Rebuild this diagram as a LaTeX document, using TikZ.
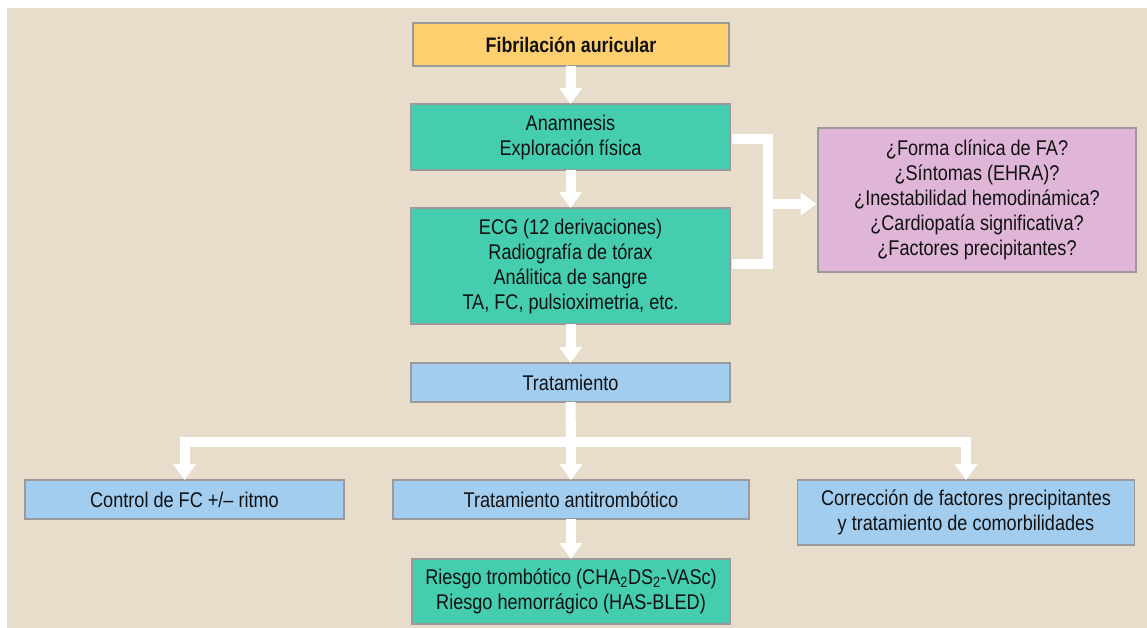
\documentclass[tikz,border=0pt]{standalone}
\usepackage{fontspec}
\setmainfont{Liberation Sans}[FakeStretch=0.85]
\usetikzlibrary{arrows.meta}
\definecolor{bg}{HTML}{E8DCCA}
\definecolor{cyel}{HTML}{FDCF6F}
\definecolor{cteal}{HTML}{45CDB0}
\definecolor{cblue}{HTML}{A2CDEF}
\definecolor{cpurp}{HTML}{DFB6D8}
\definecolor{cbord}{HTML}{9A9A9A}
\definecolor{ctext}{HTML}{111111}
\begin{document}
\begin{tikzpicture}[x=1pt,y=-1pt,
  box/.style={draw=cbord,line width=1.5pt,inner sep=0pt,align=center,text=ctext,
    font=\fontsize{21.3}{25}\selectfont},
  conn/.style={draw=white,line width=10pt,line join=miter},
  arr/.style={conn,-{Triangle[width=22pt,length=16pt]}}]
\useasboundingbox (0,0) rectangle (1147,628);
\fill[white] (0,0) rectangle (1147,628);
\fill[bg] (7,8) rectangle (1147,628);

\node[box,fill=cyel,minimum width=316pt,minimum height=43pt,font=\fontsize{21}{25}\selectfont\bfseries] (fa) at (571,44.5) {Fibrilación auricular};
\node[box,fill=cteal,minimum width=319pt,minimum height=66pt] (anam) at (570.5,137) {Anamnesis\\Exploración física};
\node[box,fill=cteal,minimum width=319pt,minimum height=116pt] (ecg) at (570.5,266) {ECG (12 derivaciones)\\Radiografía de tórax\\Análitica de sangre\\TA, FC, pulsioximetria, etc.};
\node[box,fill=cblue,minimum width=319pt,minimum height=39pt] (trat) at (570.5,382.5) {Tratamiento};
\node[box,fill=cpurp,minimum width=318pt,minimum height=144pt] (purp) at (977,200) {¿Forma clínica de FA?\\¿Síntomas (EHRA)?\\¿Inestabilidad hemodinámica?\\¿Cardiopatía significativa?\\¿Factores precipitantes?};
\node[box,fill=cblue,minimum width=319pt,minimum height=39pt] (ctrl) at (184.5,499.5) {Control de FC +/– ritmo};
\node[box,fill=cblue,minimum width=356pt,minimum height=39pt] (anti) at (571,499.5) {Tratamiento antitrombótico};
\node[box,fill=cblue,minimum width=337pt,minimum height=65pt] (corr) at (966,512.5) {Corrección de factores precipitantes\\y tratamiento de comorbilidades};
\node[box,fill=cteal,minimum width=318pt,minimum height=65pt] (ries) at (571,591.5) {Riesgo trombótico (CHA\textsubscript{2}DS\textsubscript{2}-VASc)\\Riesgo hemorrágico (HAS-BLED)};

\coordinate (j) at (768,204);
\coordinate (b) at (571,442);

\draw[arr] ([yshift=0.75pt]fa.south) -- ([yshift=-0.75pt]anam.north);
\draw[arr] ([yshift=0.75pt]anam.south) -- ([yshift=-0.75pt]ecg.north);
\draw[arr] ([yshift=0.75pt]ecg.south) -- ([yshift=-0.75pt]trat.north);
\draw[conn] ([xshift=0.75pt,yshift=-2pt]anam.east) -| (j) |- ([xshift=0.75pt,yshift=2pt]ecg.east);
\draw[arr] (j) -- ([xshift=-0.75pt]purp.west |- j);
\draw[conn] ([yshift=0.75pt]trat.south) -- (b);
\draw[arr] (b) -| ([yshift=-0.75pt]ctrl.north);
\draw[arr] (b) -| ([yshift=-0.75pt]corr.north);
\draw[arr] (b) -- ([yshift=-0.75pt]anti.north);
\draw[arr] ([yshift=0.75pt]anti.south) -- ([yshift=-0.75pt]ries.north);
\end{tikzpicture}
\end{document}
